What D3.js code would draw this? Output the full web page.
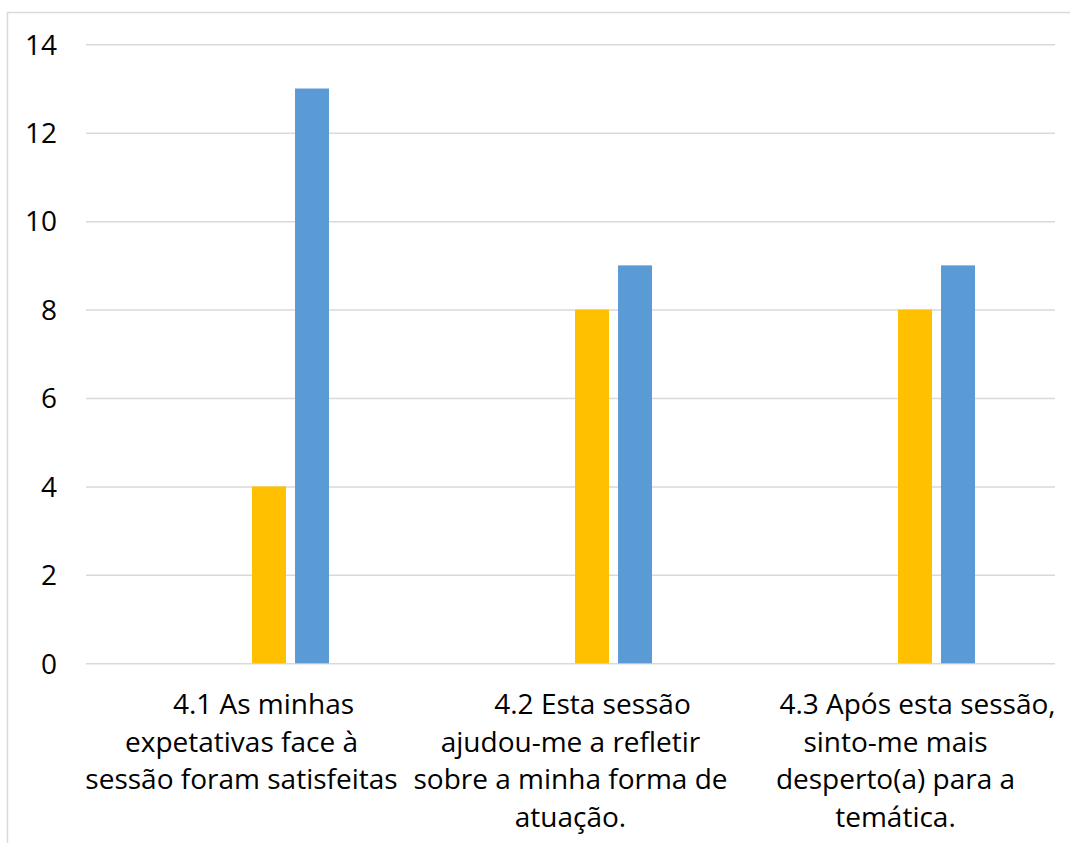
<!DOCTYPE html>
<html><head><meta charset="utf-8">
<script src="https://cdn.jsdelivr.net/npm/d3@7"></script>
<style>html,body{margin:0;padding:0;background:#fff;}svg{display:block;font-family:"Open Sans",sans-serif;}</style>
</head><body>
<svg id="c" width="1070" height="843"></svg>
<script>
const categories = [
  ["4.1 As minhas", "expetativas face à", "sessão foram satisfeitas"],
  ["4.2 Esta sessão", "ajudou-me a refletir", "sobre a minha forma de", "atuação."],
  ["4.3 Após esta sessão,", "sinto-me mais", "desperto(a) para a", "temática."]
];
const seriesNames = ["S1", "S2", "S3", "S4"];
const seriesValues = [
  [0, 0, 0],
  [0, 0, 0],
  [4, 8, 8],
  [13, 9, 9]
];
const seriesColors = ["#A5A5A5", "#ED7D31", "#FFC000", "#5B9BD5"];
const yTicks = [0, 2, 4, 6, 8, 10, 12, 14];

(function () {
const svg = d3.select("#c");
const pLeft = 86, pRight = 1055, pTop = 44.3, pBottom = 663.3;

svg.append("rect").attr("x", 7.5).attr("y", 12.5).attr("width", 1100).attr("height", 900)
  .attr("fill", "none").attr("stroke", "#d9d9d9").attr("stroke-width", 1.5);

const x = d3.scaleBand().domain(d3.range(categories.length)).range([pLeft, pRight]).padding(0);
const bw = x.bandwidth();
const xi = d3.scaleBand().domain(seriesNames).range([bw * 0.2477, bw * 0.7523]).paddingInner(0.21).paddingOuter(0);
const y = d3.scaleLinear().domain([0, 14]).range([pBottom, pTop]);

const yAxis = d3.axisLeft(y).tickValues(yTicks).tickSize(-(pRight - pLeft)).tickPadding(29).tickFormat(d3.format("d"));
const ga = svg.append("g").attr("transform", `translate(${pLeft},0)`).call(yAxis);
ga.select(".domain").remove();
ga.selectAll(".tick line").attr("stroke", "#d9d9d9").attr("stroke-width", 1.5);
ga.selectAll(".tick text").attr("fill", "#000").style("font-size", "28px").style("font-family", '"Open Sans",sans-serif').attr("dy", "0.35em");

seriesNames.forEach((s, si) => {
  svg.append("g").selectAll("rect").data(seriesValues[si]).join("rect")
    .attr("x", (d, i) => x(i) + xi(s))
    .attr("width", xi.bandwidth())
    .attr("y", d => y(d))
    .attr("height", d => y(0) - y(d))
    .attr("fill", seriesColors[si]);
});

const firstShift = [16, 22, 24];
const otherShift = [-6, 0, 2];
const lg = svg.append("g");
categories.forEach((lines, i) => {
  const cx = x(i) + bw / 2;
  const t = lg.append("text").attr("text-anchor", "middle").attr("fill", "#000").style("font-size", "28px");
  lines.forEach((ln, j) => {
    t.append("tspan").attr("x", cx + (j === 0 ? firstShift[i] : otherShift[i])).attr("y", 714 + j * 37.7).text(ln);
  });
});
})();
</script>
</body></html>
